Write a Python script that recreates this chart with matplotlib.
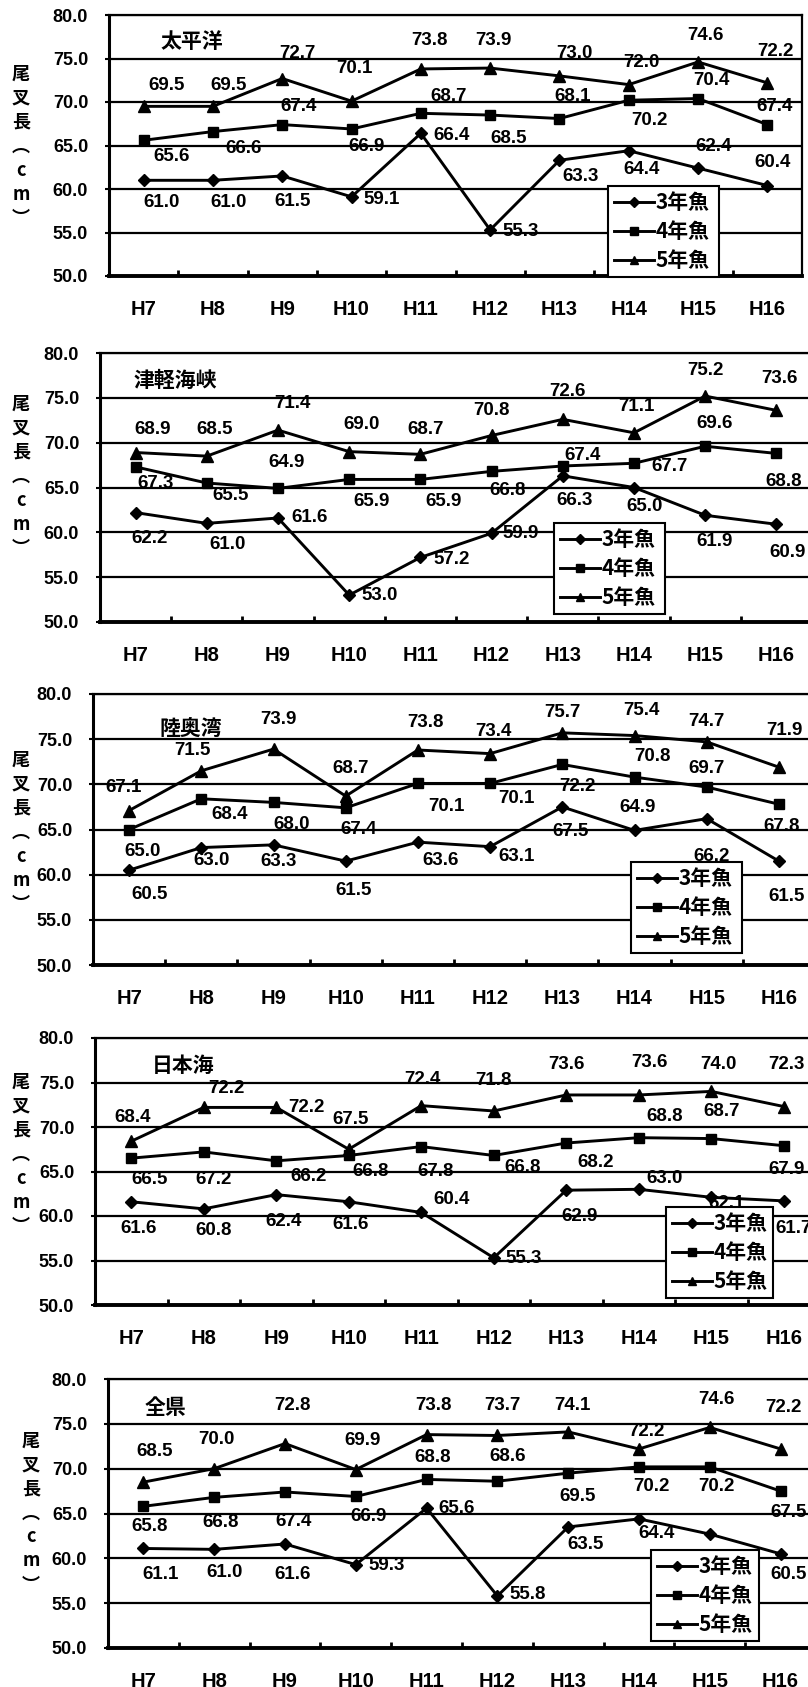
import matplotlib
matplotlib.use("Agg")
import matplotlib.pyplot as plt
from matplotlib import font_manager

# ---- data -------------------------------------------------------------
years = ["H7", "H8", "H9", "H10", "H11", "H12", "H13", "H14", "H15", "H16"]
series_names = ["3年魚", "4年魚", "5年魚"]
region_names = ["太平洋", "津軽海峡", "陸奥湾", "日本海", "全県"]
y_ticks = [50.0, 55.0, 60.0, 65.0, 70.0, 75.0, 80.0]

pacific_3 = [61.0, 61.0, 61.5, 59.1, 66.4, 55.3, 63.3, 64.4, 62.4, 60.4]
pacific_4 = [65.6, 66.6, 67.4, 66.9, 68.7, 68.5, 68.1, 70.2, 70.4, 67.4]
pacific_5 = [69.5, 69.5, 72.7, 70.1, 73.8, 73.9, 73.0, 72.0, 74.6, 72.2]

tsugaru_3 = [62.2, 61.0, 61.6, 53.0, 57.2, 59.9, 66.3, 65.0, 61.9, 60.9]
tsugaru_4 = [67.3, 65.5, 64.9, 65.9, 65.9, 66.8, 67.4, 67.7, 69.6, 68.8]
tsugaru_5 = [68.9, 68.5, 71.4, 69.0, 68.7, 70.8, 72.6, 71.1, 75.2, 73.6]

mutsu_3 = [60.5, 63.0, 63.3, 61.5, 63.6, 63.1, 67.5, 64.9, 66.2, 61.5]
mutsu_4 = [65.0, 68.4, 68.0, 67.4, 70.1, 70.1, 72.2, 70.8, 69.7, 67.8]
mutsu_5 = [67.1, 71.5, 73.9, 68.7, 73.8, 73.4, 75.7, 75.4, 74.7, 71.9]

japansea_3 = [61.6, 60.8, 62.4, 61.6, 60.4, 55.3, 62.9, 63.0, 62.1, 61.7]
japansea_4 = [66.5, 67.2, 66.2, 66.8, 67.8, 66.8, 68.2, 68.8, 68.7, 67.9]
japansea_5 = [68.4, 72.2, 72.2, 67.5, 72.4, 71.8, 73.6, 73.6, 74.0, 72.3]

whole_3 = [61.1, 61.0, 61.6, 59.3, 65.6, 55.8, 63.5, 64.4, 62.7, 60.5]
whole_4 = [65.8, 66.8, 67.4, 66.9, 68.8, 68.6, 69.5, 70.2, 70.2, 67.5]
whole_5 = [68.5, 70.0, 72.8, 69.9, 73.8, 73.7, 74.1, 72.2, 74.6, 72.2]

panels = [
    (pacific_3, pacific_4, pacific_5),
    (tsugaru_3, tsugaru_4, tsugaru_5),
    (mutsu_3, mutsu_4, mutsu_5),
    (japansea_3, japansea_4, japansea_5),
    (whole_3, whole_4, whole_5),
]

# ---- layout (pixels on a 808 x 1687 canvas) -----------------------------
W, H = 808, 1687
# axes box: left, top, right, bottom
axes_px = [
    (109, 15, 802, 276),
    (100, 353, 812, 622),
    (93, 694, 815, 965),
    (95, 1038, 820, 1305),
    (108, 1379, 816, 1648),
]
# legend box: left, top, right
legend_px = [
    (608, 186, 719),
    (554, 523, 665),
    (631, 862, 742),
    (666, 1207, 773),
    (651, 1550, 759),
]
# region title centre
title_px = [(192, 41), (175, 380), (191, 728), (183, 1065), (165, 1407)]
# vertical axis caption: x centre, y centre
ylab_px = [(21, 146), (21, 476), (21, 832), (21, 1154), (31, 1513)]

# value-label offsets (category units, data units) per panel and series
label_offsets = [
    [
        [(0.26, -2.5), (0.22, -2.6), (0.15, -2.9), (0.44, -0.3), (0.44, -0.2),
         (0.44, -0.2), (0.30, -1.9), (0.19, -2.2), (0.22, 2.5), (0.07, 2.6)],
        [(0.40, -1.9), (0.44, -1.9), (0.24, 2.1), (0.22, -2.0), (0.40, 1.9),
         (0.26, -2.7), (0.19, 2.5), (0.30, -2.3), (0.19, 2.1), (0.11, 2.1)],
        [(0.33, 2.45), (0.22, 2.45), (0.22, 2.9), (0.04, 3.7), (0.13, 3.3),
         (0.05, 3.2), (0.22, 2.6), (0.19, 2.5), (0.11, 3.1), (0.11, 3.6)],
    ],
    [
        [(0.20, -2.9), (0.29, -2.4), (0.45, 0.0), (0.43, 0.0), (0.44, -0.2),
         (0.41, 0.0), (0.17, -2.7), (0.15, -2.1), (0.13, -2.9), (0.15, -3.2)],
        [(0.28, -1.8), (0.33, -1.4), (0.12, 2.9), (0.32, -2.5), (0.33, -2.5),
         (0.23, -2.1), (0.28, 1.2), (0.50, -0.4), (0.13, 2.5), (0.10, -3.1)],
        [(0.24, 2.6), (0.11, 3.0), (0.20, 3.0), (0.17, 3.0), (0.08, 2.8),
         (0.00, 2.8), (0.07, 3.1), (0.04, 2.9), (0.00, 2.9), (0.04, 3.6)],
    ],
    [
        [(0.29, -2.7), (0.14, -1.4), (0.07, -1.8), (0.11, -3.2), (0.32, -2.0),
         (0.36, -1.1), (0.11, -2.7), (0.04, 2.5), (0.07, -4.2), (0.11, -3.9)],
        [(0.18, -2.4), (0.39, -1.7), (0.25, -2.4), (0.18, -2.4), (0.39, -2.5),
         (0.36, -1.7), (0.21, -2.4), (0.25, 2.3), (0.00, 2.1), (0.04, -2.5)],
        [(-0.08, 2.5), (-0.12, 2.3), (0.07, 3.25), (0.07, 3.1), (0.10, 3.1),
         (0.04, 2.4), (0.00, 2.2), (0.10, 2.8), (0.00, 2.3), (0.07, 4.1)],
    ],
    [
        [(0.10, -3.0), (0.14, -2.4), (0.10, -3.0), (0.02, -2.6), (0.42, 1.4),
         (0.41, -0.1), (0.19, -3.0), (0.36, 1.2), (0.21, -0.75), (0.14, -3.1)],
        [(0.25, -2.4), (0.14, -3.1), (0.45, -1.8), (0.30, -1.8), (0.20, -2.8),
         (0.40, -1.4), (0.40, -2.2), (0.36, 2.4), (0.14, 3.0), (0.04, -2.7)],
        [(0.02, 2.7), (0.31, 2.1), (0.42, 0.0), (0.02, 3.3), (0.02, 2.9),
         (0.00, 3.4), (0.00, 3.4), (0.15, 3.6), (0.10, 3.0), (0.04, 4.7)],
    ],
    [
        [(0.24, -2.9), (0.14, -2.6), (0.11, -3.4), (0.44, -0.1), (0.42, 0.0),
         (0.43, 0.15), (0.24, -2.0), (0.25, -1.6), (0.10, -3.2), (0.11, -2.3)],
        [(0.09, -2.2), (0.09, -2.8), (0.12, -3.3), (0.18, -2.2), (0.09, 2.4),
         (0.14, 2.8), (0.13, -2.6), (0.18, -2.2), (0.10, -2.2), (0.11, -2.4)],
        [(0.16, 3.4), (0.03, 3.2), (0.10, 4.3), (0.10, 3.2), (0.10, 3.3),
         (0.07, 3.4), (0.06, 3.0), (0.10, 2.0), (0.10, 3.1), (0.04, 4.6)],
    ],
]

markers = ["D", "s", "^"]
marker_sizes = [6.5, 7, 8]

# ---- fonts --------------------------------------------------------------
available = {f.name for f in font_manager.fontManager.ttflist}
LATIN = "Liberation Sans" if "Liberation Sans" in available else "DejaVu Sans"
NARROW = "Liberation Sans Narrow" if "Liberation Sans Narrow" in available else LATIN
CJK = "Noto Sans CJK JP"
plt.rcParams["font.family"] = [LATIN, CJK, "DejaVu Sans"]
plt.rcParams["font.weight"] = "bold"
plt.rcParams["axes.linewidth"] = 1.5

fig = plt.figure(figsize=(W / 100, H / 100), dpi=100)
fig.patch.set_facecolor("white")


def fx(x):
    return x / W


def fy(y):
    return 1 - y / H


for p, (series, box, lbox, tpos, ypos, offs) in enumerate(
        zip(panels, axes_px, legend_px, title_px, ylab_px, label_offsets)):
    l, t, r, b = box
    ax = fig.add_axes([fx(l), fy(b), (r - l) / W, (b - t) / H])
    ax.set_xlim(-0.5, len(years) - 0.5)
    ax.set_ylim(50, 80)
    ax.set_facecolor("white")

    # horizontal gridlines
    ax.set_yticks(y_ticks)
    ax.set_yticklabels([f"{v:.1f}" for v in y_ticks])
    ax.yaxis.grid(True, color="black", linewidth=1.6, zorder=1)
    ax.set_axisbelow(True)
    ax.tick_params(axis="y", direction="out", length=3, width=1.5,
                   pad=12, labelsize=13, colors="black")
    for lab in ax.get_yticklabels():
        lab.set_fontweight("bold")

    x = list(range(len(years)))
    ax.set_xticks(x)
    ax.set_xticklabels(years, fontsize=14.5, fontweight="bold",
                       family=[NARROW, LATIN])
    ax.tick_params(axis="x", which="major", length=0, pad=17)
    ax.set_xticks([i + 0.5 for i in range(len(years) - 1)], minor=True)
    ax.tick_params(axis="x", which="minor", direction="in", length=4, width=2)

    for side, lw in (("left", 2.2), ("bottom", 2.8), ("top", 1.6), ("right", 1.6)):
        ax.spines[side].set_linewidth(lw)
        ax.spines[side].set_color("black")

    handles = []
    for s, values in enumerate(series):
        h, = ax.plot(x, values, color="black", linewidth=2.1,
                     marker=markers[s], markersize=marker_sizes[s],
                     markerfacecolor="black", markeredgecolor="black",
                     label=series_names[s], zorder=3, clip_on=False)
        handles.append(h)
        for i, v in enumerate(values):
            dx, dy = offs[s][i]
            ax.text(i + dx, v + dy, f"{v:.1f}", ha="center", va="center",
                    fontsize=13.5, fontweight="bold", color="black", zorder=4,
                    clip_on=False)

    # legend
    ll, lt, lr = lbox
    x0 = (ll - l) / (r - l)
    y0 = (b - lt) / (b - t)
    wfrac = (lr - ll) / (r - l)
    leg = ax.legend(handles=handles, loc="upper left",
                    bbox_to_anchor=(x0, y0, wfrac, 0.0001), mode="expand",
                    borderaxespad=0, frameon=True, fancybox=False,
                    edgecolor="black", facecolor="white", framealpha=1,
                    prop={"family": [CJK, LATIN], "weight": "bold", "size": 15},
                    handlelength=1.9, handletextpad=0.1, labelspacing=0.38,
                    borderpad=0.3, markerscale=0.8)
    leg.get_frame().set_linewidth(1.5)
    leg.set_zorder(10)

    # region title
    fig.text(fx(tpos[0]), fy(tpos[1]), region_names[p], ha="center",
             va="center", fontsize=15, fontweight="bold", family=[CJK, LATIN])

    # vertical caption: 尾叉長（cm）
    chars = ["尾", "叉", "長", "︵", "c", "m", "︶"]
    step = 24
    for k, ch in enumerate(chars):
        yy = ypos[1] + (k - (len(chars) - 1) / 2) * step
        fig.text(fx(ypos[0]), fy(yy), ch, ha="center", va="center",
                 fontsize=13, fontweight="bold", family=[CJK, LATIN])

fig.savefig("out.png", dpi=100, facecolor="white")
